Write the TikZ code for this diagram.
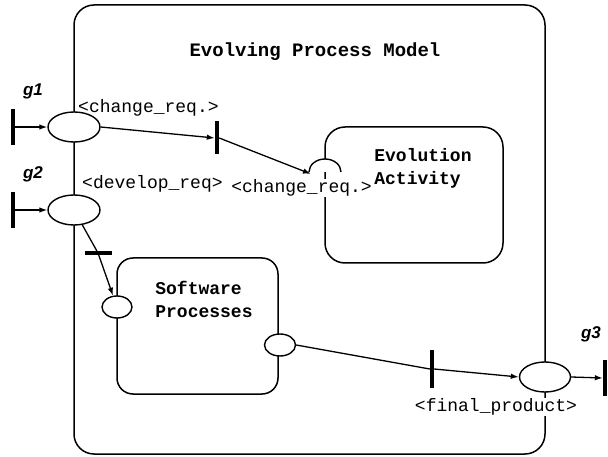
\documentclass[tikz,border=0pt]{standalone}
\usepackage{fontspec}
\setmonofont{Liberation Mono}
\setsansfont{Liberation Sans}
\usetikzlibrary{arrows.meta,positioning,shapes.geometric}

\begin{document}
\begin{tikzpicture}[
    x=1pt, y=-1pt, >={Latex[length=8pt,width=5.5pt]},
    font=\ttfamily\fontsize{18}{22}\selectfont,
    % Styles
    procBox/.style={draw, line width=1.5pt, rounded corners=20pt, inner sep=0pt},
    portNode/.style={draw, line width=1.4pt, fill=white, ellipse, inner sep=0pt},
    titleText/.style={font=\ttfamily\bfseries\fontsize{18}{23}\selectfont, align=left},
    reqLabel/.style={inner sep=1pt},
    gateLabel/.style={font=\sffamily\bfseries\itshape\fontsize{17}{17}\selectfont},
    vBar/.style={fill=black, inner sep=0pt, minimum width=4pt, minimum height=36pt},
    hBar/.style={fill=black, inner sep=0pt, minimum width=27pt, minimum height=4pt},
    flow/.style={->, line width=1.3pt}
]
\useasboundingbox (0,0) rectangle (608,457);

% ================= PROCESS BOXES =================
\node[procBox, minimum width=471pt, minimum height=449pt] (epm) at (309.5,229.5) {};
\node[titleText, font=\ttfamily\bfseries\fontsize{19}{23}\selectfont] (epmTitle) at (315,52) {Evolving Process Model};

\node[procBox, minimum width=178pt, minimum height=136pt] (evo) at (414,195) {};
\node[titleText] (evoTitle) at (423,168) {Evolution\\Activity};

\node[procBox, rounded corners=16pt, minimum width=161pt, minimum height=136pt] (sw) at (197.5,326) {};
\node[titleText] (swTitle) at (204,299) {Software\\Processes};

% ================= BARS =================
\node[vBar] (g1bar) at (13,127) {};
\node[vBar] (g2bar) at (13,210) {};
\node[vBar, minimum height=33pt] (t1) at (217,138) {};
\node[hBar] (t2) at (98,253) {};
\node[vBar, minimum height=38pt] (t3) at (432,369) {};
\node[vBar] (g3bar) at (605,378) {};

% ================= PORTS =================
\node[portNode, minimum width=52pt, minimum height=30pt] (g1) at (74,127) {};
\node[portNode, minimum width=52pt, minimum height=30pt] (g2) at (74,210) {};
\node[portNode, minimum width=30pt, minimum height=22pt] (swin) at (117,307) {};
\node[portNode, minimum width=31pt, minimum height=22pt] (swout) at (280,345) {};
\node[portNode, minimum width=51pt, minimum height=30pt] (fin) at (545,377) {};
\coordinate (evin) at (325,172);
\draw[line width=1.4pt, fill=white] (evin) ++(-16pt,0) arc[start angle=180, end angle=0, x radius=16pt, y radius=13pt];

% ================= ARROWS =================
\draw[flow] (g1bar.east) -- (g1.west);
\draw[flow] (g2bar.east) -- (g2.west);
\draw[flow] (g1.east) -- (t1.west);
\draw[flow] (t1.east) -- ([xshift=-14pt,yshift=-2pt]evin);
\draw[flow] (g2) -- (t2.center) -- (swin);
\draw[line width=1.3pt] (swout.east) -- (t3.west);
\draw[flow] (t3.east) -- (fin.west);
\draw[flow] (fin.east) -- (g3bar.west);

% ================= LABELS =================
\node[gateLabel] (g1lab) at (33,91) {g1};
\node[gateLabel] (g2lab) at (33,174) {g2};
\node[gateLabel] (g3lab) at (591,334) {g3};

\node[reqLabel, anchor=west] (req1) at (77,108) {<change\_req.>};
\node[reqLabel, anchor=west] (req2) at (81,184) {<develop\_req>};
\node[reqLabel, anchor=east, fill=white] (req3) at (373,188) {<change\_req.>};
\node[reqLabel, fill=white] (req4) at (496,407) {<final\_product>};

\end{tikzpicture}
\end{document}
